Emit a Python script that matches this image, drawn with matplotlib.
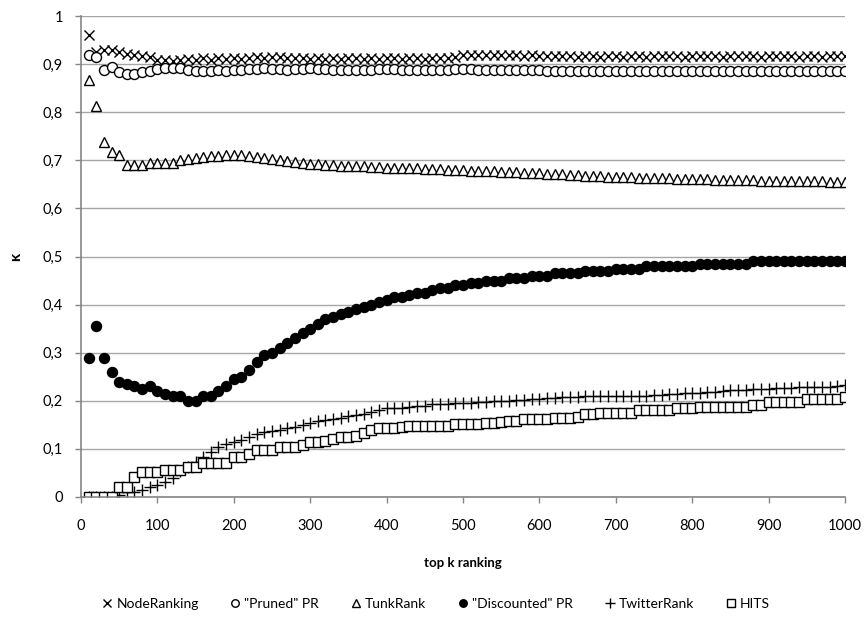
import matplotlib
matplotlib.use('Agg')
import matplotlib.pyplot as plt
from matplotlib.ticker import FuncFormatter, MultipleLocator

plt.rcParams['font.family'] = ['Lato', 'DejaVu Sans']

# top-k cutoffs
k = list(range(10, 1001, 10))

node_ranking = [
    0.960, 0.926, 0.930, 0.930, 0.926, 0.922, 0.919, 0.917, 0.914, 0.909,
    0.909, 0.907, 0.909, 0.911, 0.909, 0.912, 0.909, 0.912, 0.911, 0.912,
    0.910, 0.913, 0.915, 0.913, 0.915, 0.914, 0.913, 0.912, 0.913, 0.911,
    0.912, 0.911, 0.913, 0.911, 0.912, 0.913, 0.911, 0.912, 0.911, 0.913,
    0.912, 0.911, 0.913, 0.912, 0.911, 0.913, 0.912, 0.913, 0.915, 0.918,
    0.918, 0.919, 0.918, 0.919, 0.918, 0.919, 0.918, 0.917, 0.918, 0.917,
    0.916, 0.917, 0.916, 0.917, 0.915, 0.917, 0.916, 0.915, 0.917, 0.916,
    0.915, 0.917, 0.916, 0.915, 0.917, 0.916, 0.917, 0.916, 0.915, 0.917,
    0.916, 0.917, 0.916, 0.915, 0.917, 0.916, 0.917, 0.916, 0.915, 0.917,
    0.916, 0.917, 0.916, 0.915, 0.917, 0.916, 0.915, 0.916, 0.917, 0.916,
]

pruned_pr = [
    0.919, 0.915, 0.888, 0.895, 0.884, 0.879, 0.880, 0.884, 0.886, 0.889,
    0.891, 0.891, 0.891, 0.888, 0.886, 0.886, 0.886, 0.887, 0.886, 0.887,
    0.888, 0.889, 0.890, 0.891, 0.890, 0.889, 0.888, 0.889, 0.890, 0.891,
    0.890, 0.889, 0.888, 0.888, 0.887, 0.887, 0.888, 0.888, 0.889, 0.889,
    0.889, 0.888, 0.888, 0.887, 0.887, 0.888, 0.888, 0.888, 0.889, 0.889,
    0.889, 0.888, 0.888, 0.887, 0.887, 0.887, 0.888, 0.888, 0.888, 0.887,
    0.886, 0.886, 0.886, 0.885, 0.885, 0.885, 0.885, 0.886, 0.886, 0.886,
    0.885, 0.885, 0.885, 0.885, 0.886, 0.886, 0.886, 0.885, 0.885, 0.885,
    0.885, 0.885, 0.885, 0.886, 0.886, 0.885, 0.885, 0.885, 0.885, 0.885,
    0.885, 0.885, 0.885, 0.885, 0.885, 0.885, 0.885, 0.885, 0.885, 0.885,
]

tunk_rank = [
    0.867, 0.813, 0.739, 0.718, 0.711, 0.690, 0.690, 0.690, 0.695, 0.695,
    0.695, 0.695, 0.700, 0.702, 0.705, 0.707, 0.709, 0.710, 0.711, 0.712,
    0.712, 0.710, 0.707, 0.704, 0.702, 0.700, 0.698, 0.697, 0.695, 0.693,
    0.692, 0.691, 0.690, 0.689, 0.689, 0.688, 0.688, 0.687, 0.686, 0.685,
    0.685, 0.684, 0.684, 0.683, 0.682, 0.682, 0.681, 0.680, 0.680, 0.679,
    0.678, 0.678, 0.677, 0.677, 0.676, 0.675, 0.675, 0.674, 0.673, 0.673,
    0.672, 0.671, 0.671, 0.670, 0.669, 0.668, 0.667, 0.667, 0.666, 0.666,
    0.665, 0.665, 0.664, 0.664, 0.663, 0.663, 0.663, 0.662, 0.662, 0.662,
    0.661, 0.661, 0.660, 0.660, 0.660, 0.659, 0.659, 0.659, 0.658, 0.658,
    0.658, 0.657, 0.657, 0.657, 0.656, 0.656, 0.656, 0.655, 0.655, 0.655,
]

discounted_pr = [
    0.290, 0.355, 0.290, 0.260, 0.240, 0.235, 0.230, 0.225, 0.230, 0.220,
    0.215, 0.210, 0.210, 0.200, 0.200, 0.210, 0.210, 0.220, 0.230, 0.245,
    0.250, 0.265, 0.280, 0.295, 0.300, 0.310, 0.320, 0.330, 0.340, 0.350,
    0.360, 0.370, 0.375, 0.380, 0.385, 0.390, 0.395, 0.400, 0.405, 0.410,
    0.415, 0.415, 0.420, 0.425, 0.425, 0.430, 0.435, 0.435, 0.440, 0.440,
    0.445, 0.445, 0.450, 0.450, 0.450, 0.455, 0.455, 0.455, 0.460, 0.460,
    0.460, 0.465, 0.465, 0.465, 0.465, 0.470, 0.470, 0.470, 0.470, 0.475,
    0.475, 0.475, 0.475, 0.480, 0.480, 0.480, 0.480, 0.480, 0.480, 0.480,
    0.485, 0.485, 0.485, 0.485, 0.485, 0.485, 0.485, 0.490, 0.490, 0.490,
    0.490, 0.490, 0.490, 0.490, 0.490, 0.490, 0.490, 0.490, 0.490, 0.490,
]

twitter_rank = [
    0.000, 0.000, 0.000, 0.000, 0.005, 0.010, 0.010, 0.015, 0.020, 0.025,
    0.032, 0.040, 0.053, 0.063, 0.073, 0.084, 0.094, 0.103, 0.110, 0.115,
    0.118, 0.125, 0.130, 0.135, 0.138, 0.140, 0.143, 0.146, 0.150, 0.153,
    0.157, 0.160, 0.163, 0.165, 0.168, 0.170, 0.173, 0.177, 0.181, 0.185,
    0.185, 0.185, 0.187, 0.189, 0.190, 0.193, 0.193, 0.194, 0.195, 0.195,
    0.196, 0.197, 0.198, 0.199, 0.200, 0.200, 0.201, 0.202, 0.203, 0.204,
    0.205, 0.206, 0.207, 0.208, 0.208, 0.209, 0.209, 0.209, 0.209, 0.210,
    0.210, 0.210, 0.211, 0.211, 0.212, 0.212, 0.214, 0.215, 0.216, 0.217,
    0.217, 0.218, 0.219, 0.220, 0.222, 0.222, 0.223, 0.224, 0.225, 0.225,
    0.226, 0.226, 0.227, 0.228, 0.228, 0.228, 0.229, 0.229, 0.230, 0.232,
]

hits = [
    0.000, 0.000, 0.000, 0.000, 0.020, 0.020, 0.042, 0.052, 0.052, 0.052,
    0.056, 0.056, 0.056, 0.063, 0.063, 0.070, 0.070, 0.070, 0.070, 0.083,
    0.083, 0.090, 0.097, 0.097, 0.097, 0.104, 0.104, 0.104, 0.108, 0.114,
    0.114, 0.116, 0.120, 0.125, 0.125, 0.127, 0.133, 0.139, 0.143, 0.143,
    0.143, 0.145, 0.148, 0.148, 0.148, 0.148, 0.148, 0.147, 0.152, 0.152,
    0.152, 0.152, 0.153, 0.153, 0.155, 0.159, 0.159, 0.162, 0.162, 0.162,
    0.162, 0.164, 0.165, 0.165, 0.167, 0.173, 0.173, 0.175, 0.175, 0.175,
    0.175, 0.175, 0.180, 0.180, 0.180, 0.180, 0.180, 0.184, 0.184, 0.184,
    0.187, 0.187, 0.187, 0.187, 0.187, 0.187, 0.187, 0.192, 0.192, 0.197,
    0.197, 0.197, 0.197, 0.197, 0.204, 0.204, 0.204, 0.204, 0.204, 0.208,
]

labels = ['NodeRanking', '"Pruned" PR', 'TunkRank', '"Discounted" PR', 'TwitterRank', 'HITS']

fig = plt.figure(figsize=(8.67, 6.21), dpi=100)
ax = fig.add_axes([0.0934, 0.1997, 0.8812, 0.7745])

ms = 7.2
ax.plot(k, node_ranking, ls='none', marker='x', ms=ms, mec='black', mew=1.0, label=labels[0])
ax.plot(k, pruned_pr, ls='none', marker='o', ms=ms, mfc='white', mec='black', mew=1.0, label=labels[1])
ax.plot(k, tunk_rank, ls='none', marker='^', ms=ms + 0.6, mfc='white', mec='black', mew=1.0, label=labels[2])
ax.plot(k, discounted_pr, ls='none', marker='o', ms=ms, mfc='black', mec='black', mew=1.0, label=labels[3])
ax.plot(k, twitter_rank, ls='none', marker='+', ms=ms + 1.5, mec='black', mew=1.0, label=labels[4])
ax.plot(k, hits, ls='none', marker='s', ms=ms, mfc='white', mec='black', mew=1.0, label=labels[5])

ax.set_xlim(0, 1000)
ax.set_ylim(0, 1)
ax.xaxis.set_major_locator(MultipleLocator(100))
ax.yaxis.set_major_locator(MultipleLocator(0.1))
ax.yaxis.set_major_formatter(FuncFormatter(lambda v, p: ('%g' % round(v, 1)).replace('.', ',')))

ax.grid(axis='y', color='#a6a6a6', lw=1.0)
ax.set_axisbelow(True)
for s in ['top', 'right']:
    ax.spines[s].set_visible(False)
for s in ['left', 'bottom']:
    ax.spines[s].set_color('#868686')
    ax.spines[s].set_linewidth(1.2)
ax.tick_params(axis='both', colors='#868686', labelcolor='black', labelsize=10.5, length=4, width=1.0)
ax.tick_params(axis='x', pad=12)
ax.tick_params(axis='y', pad=9)

ax.set_xlabel('top k ranking', fontsize=9.5, fontweight='bold', labelpad=17)
ax.set_ylabel('κ', fontsize=11, fontweight='bold', labelpad=14, rotation=90)

leg = ax.legend(loc='upper center', bbox_to_anchor=(0.465, -0.184), ncol=6, frameon=False,
                fontsize=10, markerscale=0.75, handlelength=0.7, handletextpad=0.3,
                columnspacing=2.3)

fig.savefig('out.png', dpi=100)
